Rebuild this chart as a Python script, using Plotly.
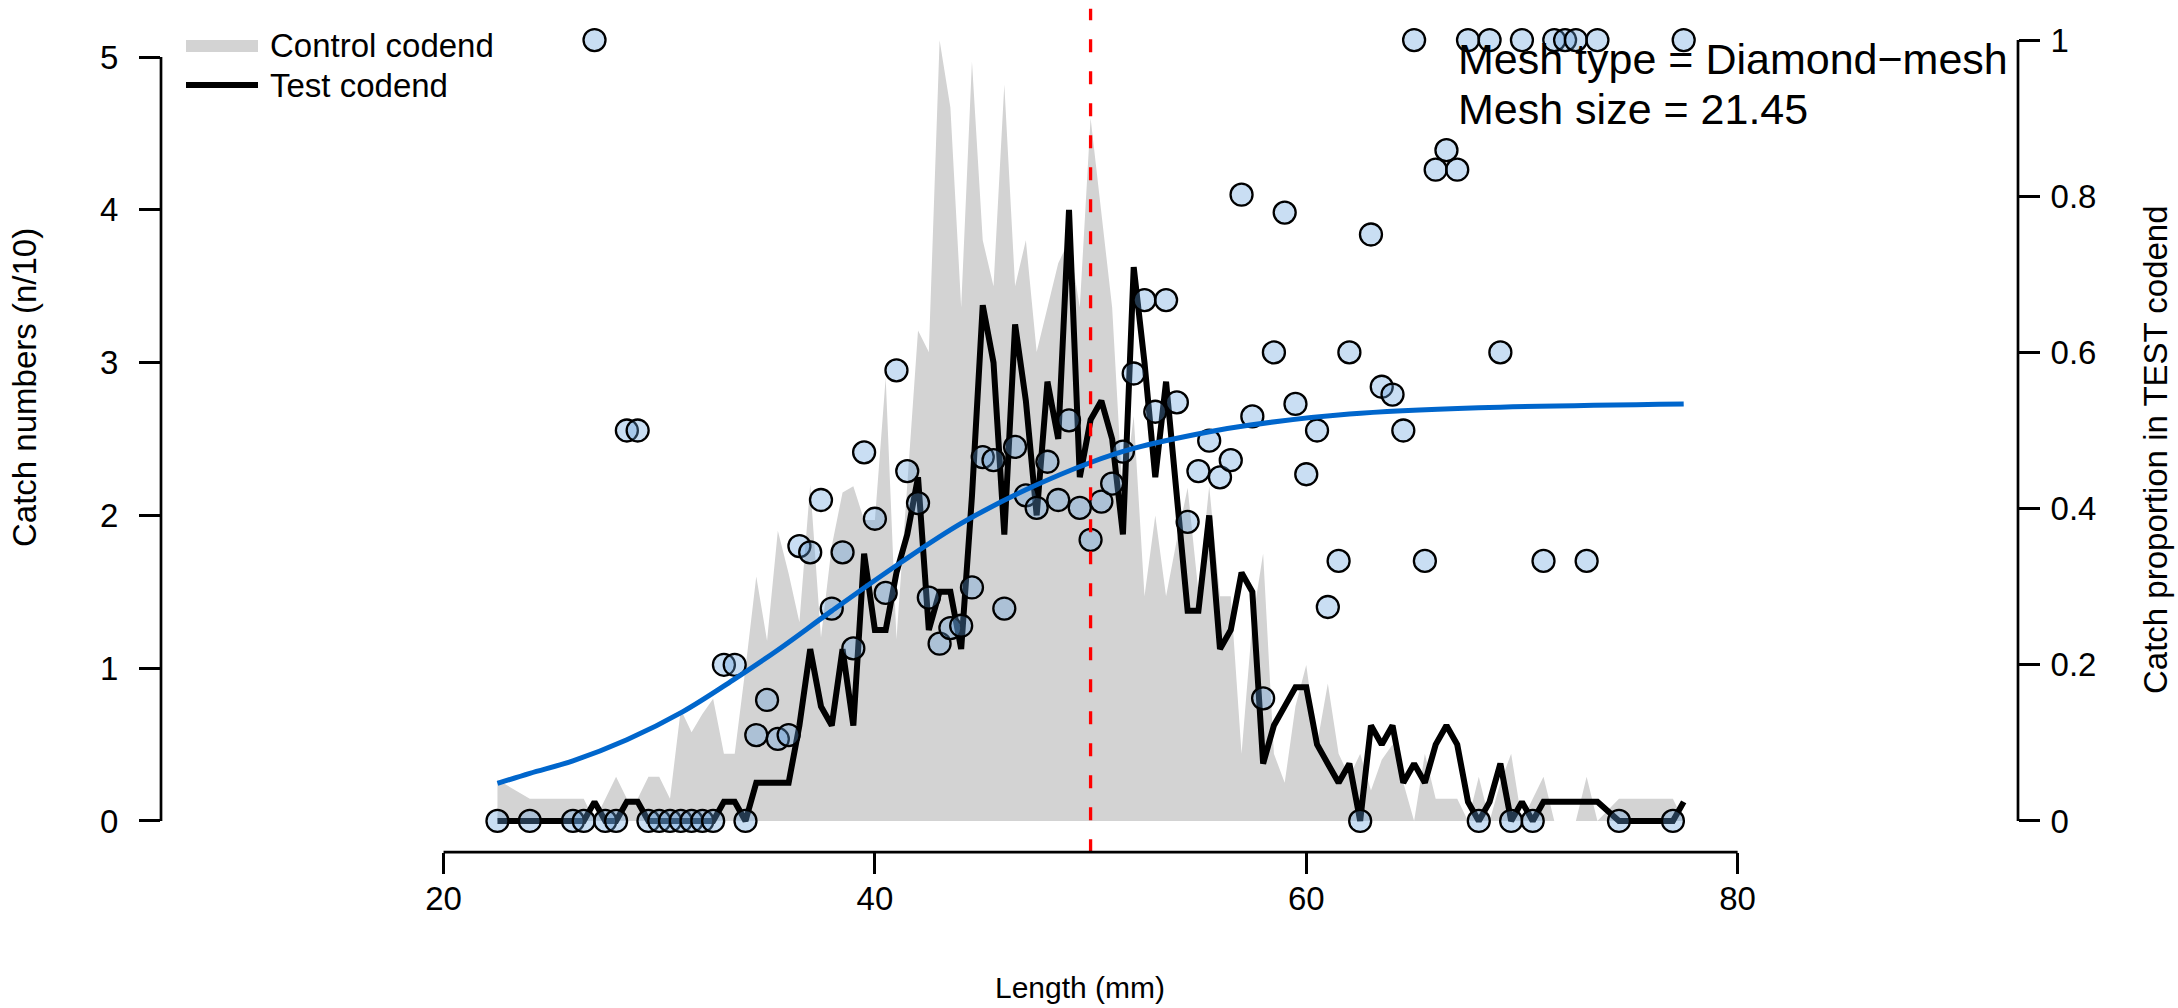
import plotly.graph_objects as go

# ---------------- data ----------------
length_mm = [22.5, 24, 26, 26.5, 27, 27.5, 28, 28.5, 29, 29.5, 30, 30.5, 31, 31.5, 32, 32.5,
             33, 33.5, 34, 34.5, 35, 35.5, 36, 36.5, 37, 37.5, 38, 38.5, 39, 39.5, 40, 40.5,
             41, 41.5, 42, 42.5, 43, 43.5, 44, 44.5, 45, 45.5, 46, 46.5, 47, 47.5, 48, 48.5,
             49, 49.5, 50, 50.5, 51, 51.5, 52, 52.5, 53, 53.5, 54, 54.5, 55, 55.5, 56, 56.5,
             57, 57.5, 58, 58.5, 59, 59.5, 60, 60.5, 61, 61.5, 62, 62.5, 63, 63.5, 64, 64.5,
             65, 65.5, 66, 66.5, 67, 67.5, 68, 68.5, 69, 69.5, 70, 70.5, 71, 71.5, 72, 72.5,
             73, 73.5, 74.5, 77, 77.5]

test_codend = [0, 0, 0, 0, 0.125, 0, 0, 0.125, 0.125, 0, 0, 0, 0, 0, 0, 0,
               0.125, 0.125, 0, 0.25, 0.25, 0.25, 0.25, 0.625, 1.125, 0.75, 0.625, 1.125, 0.625, 1.75, 1.25, 1.25,
               1.625, 1.875, 2.25, 1.25, 1.5, 1.5, 1.125, 2.125, 3.375, 3.0, 1.875, 3.25, 2.75, 2.0, 2.875, 2.5,
               4.0, 2.25, 2.625, 2.75, 2.5, 1.875, 3.625, 3.0, 2.25, 2.875, 2.125, 1.375, 1.375, 2.0, 1.125, 1.25,
               1.625, 1.5, 0.375, 0.625, 0.75, 0.875, 0.875, 0.5, 0.375, 0.25, 0.375, 0, 0.625, 0.5, 0.625, 0.25,
               0.375, 0.25, 0.5, 0.625, 0.5, 0.125, 0, 0.125, 0.375, 0, 0.125, 0, 0.125, 0.125, 0.125, 0.125,
               0.125, 0.125, 0, 0, 0.125]

control_codend = [0.27, 0.146, 0.146, 0.146, 0, 0.146, 0.29, 0.146, 0.146, 0.29, 0.29, 0.146, 0.73, 0.58, 0.7, 0.8,
                  0.44, 0.44, 1.0, 1.6, 1.18, 1.9, 1.62, 1.3, 2.2, 1.2, 1.8, 2.15, 2.19, 1.97, 1.97, 2.9,
                  1.19, 2.2, 3.21, 3.07, 5.11, 4.67, 3.36, 4.97, 3.8, 3.5, 4.82, 3.5, 3.8, 3.07, 3.36, 3.65,
                  3.8, 3.36, 4.6, 4.0, 3.36, 2.1, 2.65, 1.47, 2.0, 1.47, 1.84, 2.18, 1.5, 2.19, 1.47, 1.47,
                  0.44, 1.3, 1.75, 0.44, 0.25, 0.75, 1.02, 0.5, 0.9, 0.44, 0.29, 0.44, 0.2, 0.4, 0.5, 0.25,
                  0, 0.44, 0.146, 0.146, 0.146, 0, 0.29, 0, 0.25, 0.44, 0, 0.146, 0.29, 0, 0, 0,
                  0.29, 0, 0.146, 0.146, 0]

prop_test = [0, 0, 0, 0, 1, 0, 0, 0.5, 0.5, 0, 0, 0, 0, 0, 0, 0,
             0.2, 0.2, 0, 0.11, 0.155, 0.105, 0.11, 0.352, 0.344, 0.411, 0.272, 0.344, 0.221, 0.472, 0.387, 0.292,
             0.577, 0.448, 0.407, 0.286, 0.227, 0.247, 0.25, 0.299, 0.466, 0.462, 0.272, 0.479, 0.417, 0.401, 0.46, 0.411,
             0.513, 0.401, 0.36, 0.409, 0.432, 0.473, 0.573, 0.667, 0.524, 0.667, 0.536, 0.383, 0.448, 0.487, 0.44, 0.462,
             0.802, 0.518, 0.157, 0.6, 0.779, 0.534, 0.444, 0.5, 0.274, 0.333, 0.6, 0, 0.751, 0.556, 0.546, 0.5,
             1, 0.333, 0.834, 0.859, 0.834, 1, 0, 1, 0.6, 0, 1, 0, 0.333, 1, 1, 1,
             0.333, 1, 0, 0, 1]

# fitted selection curve
curve_len = [22.5, 24, 26, 28.5, 31.1, 33.4, 35.5, 38.0, 41.15, 44.0, 47.0, 50.0, 52.0, 55.45, 57.4, 62.0, 68.0, 77.5]
curve_prop = [0.048, 0.061, 0.077, 0.104, 0.140, 0.180, 0.219, 0.269, 0.330, 0.381, 0.424, 0.459, 0.477, 0.498,
              0.507, 0.521, 0.529, 0.534]

l50 = 50.0
x_ticks = [20, 40, 60, 80]
y_ticks = [0, 1, 2, 3, 4, 5]
y2_ticks = [0, 0.2, 0.4, 0.6, 0.8, 1]
y2_ticktext = ["0", "0.2", "0.4", "0.6", "0.8", "1"]

# ---------------- layout geometry ----------------
W, H = 2178, 1008
FONT = "Liberation Sans, Arial, Helvetica, sans-serif"
px_left, px_right = 161, 2018
py_top, py_bot = 8.8, 852.2
xdom = [px_left / W, px_right / W]
ydom = [1 - py_bot / H, 1 - py_top / H]
scale = 5.111            # left-axis value corresponding to proportion 1
xr = [6.9, 93.0]
yr = [-0.04 * scale, 1.04 * scale]
y2r = [-0.04, 1.04]

def px(x):
    return x / W

def py(y):
    return 1 - y / H

fig = go.Figure()

fig.add_trace(go.Scatter(x=length_mm, y=control_codend, mode="lines", fill="tozeroy",
                         fillcolor="#D3D3D3", line=dict(width=0, color="#D3D3D3"),
                         showlegend=False, hoverinfo="skip"))
fig.add_trace(go.Scatter(x=length_mm, y=test_codend, mode="lines",
                         line=dict(color="black", width=6), showlegend=False))
fig.add_trace(go.Scatter(x=length_mm, y=prop_test, mode="markers", yaxis="y2",
                         marker=dict(size=22, color="rgba(100,160,220,0.35)",
                                     line=dict(color="black", width=2.3)),
                         showlegend=False))
fig.add_trace(go.Scatter(x=curve_len, y=curve_prop, mode="lines", yaxis="y2",
                         line=dict(color="#0066CC", width=5, shape="spline", smoothing=1.0),
                         showlegend=False))

shapes = []
# red dashed L50 line
shapes.append(dict(type="line", xref="x", yref="paper", x0=l50, x1=l50, y0=ydom[0], y1=ydom[1],
                   line=dict(color="#FF0000", width=3.3, dash="13px,19px")))
# axis lines (R style: only across the tick range)
AXW = 2.7
shapes.append(dict(type="line", xref="x", yref="paper", x0=x_ticks[0], x1=x_ticks[-1],
                   y0=ydom[0], y1=ydom[0], line=dict(color="black", width=AXW)))
shapes.append(dict(type="line", xref="paper", yref="y", x0=xdom[0], x1=xdom[0],
                   y0=y_ticks[0], y1=y_ticks[-1], line=dict(color="black", width=AXW)))
shapes.append(dict(type="line", xref="paper", yref="y2", x0=xdom[1], x1=xdom[1],
                   y0=y2_ticks[0], y1=y2_ticks[-1], line=dict(color="black", width=AXW)))
# legend symbols
shapes.append(dict(type="line", xref="paper", yref="paper", x0=px(186), x1=px(258), y0=py(46), y1=py(46),
                   line=dict(color="#D3D3D3", width=12)))
shapes.append(dict(type="line", xref="paper", yref="paper", x0=px(186), x1=px(258), y0=py(85), y1=py(85),
                   line=dict(color="black", width=6)))

annotations = []
def txt(text, x, y, size, xanchor="center", yanchor="middle", angle=0):
    annotations.append(dict(text=text, x=px(x), y=py(y), xref="paper", yref="paper",
                            xanchor=xanchor, yanchor=yanchor, showarrow=False, textangle=angle,
                            font=dict(family=FONT, size=size, color="black")))

txt("Control codend", 268, 46, 33, xanchor="left")
txt("Test codend", 268, 85, 33, xanchor="left")
txt("Mesh type = Diamond\u2212mesh", 1456, 59, 43, xanchor="left")
txt("Mesh size = 21.45", 1456, 109, 43, xanchor="left")
txt("Length (mm)", 1080, 987, 30)
txt("Catch numbers (n/10)", 25, 388, 33, angle=-90)
txt("Catch proportion in TEST codend", 2156, 450, 33, angle=-90)

tickfont = dict(family=FONT, size=33, color="black")
fig.update_layout(
    width=W, height=H,
    margin=dict(l=0, r=0, t=0, b=0),
    paper_bgcolor="white", plot_bgcolor="white",
    showlegend=False,
    shapes=shapes, annotations=annotations,
    xaxis=dict(domain=xdom, range=xr, tickvals=x_ticks, ticks="outside", ticklen=21,
               tickwidth=AXW, tickcolor="black", showline=False, showgrid=False, zeroline=False,
               tickfont=tickfont, anchor="y", ticklabelstandoff=-4),
    yaxis=dict(domain=ydom, range=yr, tickvals=y_ticks, ticks="outside", ticklen=21,
               tickwidth=AXW, tickcolor="black", showline=False, showgrid=False, zeroline=False,
               tickfont=tickfont, anchor="x", ticklabelstandoff=14),
    yaxis2=dict(domain=ydom, range=y2r, tickvals=y2_ticks, ticktext=y2_ticktext, overlaying="y",
                side="right", ticks="outside", ticklen=21, tickwidth=AXW, tickcolor="black",
                showline=False, showgrid=False, zeroline=False, tickfont=tickfont, anchor="x",
                ticklabelstandoff=4),
)

fig.write_html("out.html", config={"displayModeBar": False},
               post_script="document.body.style.margin='0';"
                           "document.body.style.overflow='hidden';"
                           "document.documentElement.style.overflow='hidden';")
